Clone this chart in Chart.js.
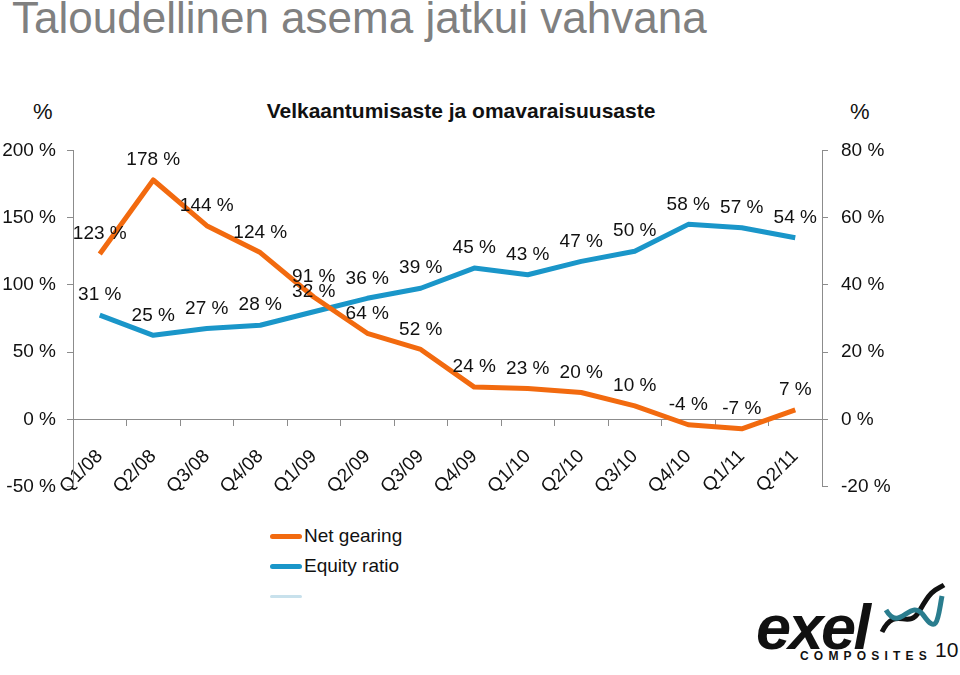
<!DOCTYPE html>
<html>
<head>
<meta charset="utf-8">
<script src="https://cdn.jsdelivr.net/npm/chart.js@4/dist/chart.umd.min.js"></script>
<style>
  body { margin: 0; width: 960px; height: 675px; background: #fff; position: relative; overflow: hidden;
         font-family: "Liberation Sans", Arial, sans-serif; color: #111; }
  .abs { position: absolute; white-space: nowrap; }
  #title { left: 12px; top: -7px; font-size: 44px; color: #808080; }
  #subtitle { left: 0; width: 922px; text-align: center; top: 99px; font-size: 21px; font-weight: bold; }
  .pct { top: 99px; font-size: 22px; }
  #chart { position: absolute; left: 0; top: 126px; }
  .leg { left: 270px; font-size: 19px; }
  .leg i { display: inline-block; width: 32px; height: 5px; border-radius: 3px; vertical-align: middle; margin-right: 2px; }
  #logo { left: 756px; top: 591px; font-size: 63px; font-weight: bold; font-style: italic; letter-spacing: -2.5px; color: #111; }
  #comp { left: 800px; top: 649px; font-size: 12px; letter-spacing: 5.2px; font-weight: bold; }
  #page { left: 935px; top: 638px; font-size: 21px; }
</style>
</head>
<body>
<div id="title" class="abs">Taloudellinen asema jatkui vahvana</div>
<div class="abs pct" style="left:33px">%</div>
<div id="subtitle" class="abs">Velkaantumisaste ja omavaraisuusaste</div>
<div class="abs pct" style="left:850px">%</div>
<canvas id="chart" width="960" height="385"></canvas>
<div class="abs leg" style="top:525px"><i style="background:#f26a0f"></i>Net gearing</div>
<div class="abs leg" style="top:555px"><i style="background:#1a96c9"></i>Equity ratio</div>
<div class="abs leg" style="top:585px"><i style="background:#c8e1ec;height:3px"></i></div>
<svg class="abs" style="left:878px;top:582px" width="70" height="56" viewBox="0 0 70 56">
  <path d="M4 50 C18 22, 30 50, 42 28 S58 8, 66 3" fill="none" stroke="#111" stroke-width="5"/>
  <path d="M8 28 C22 52, 32 14, 46 34 S60 34, 64 14" fill="none" stroke="#2a7d8e" stroke-width="5"/>
</svg>
<div id="logo" class="abs">exel</div>
<div id="comp" class="abs">COMPOSITES</div>
<div id="page" class="abs">10</div>
<script>
// Quarters and series (%)
const quarters = ['Q1/08','Q2/08','Q3/08','Q4/08','Q1/09','Q2/09','Q3/09','Q4/09','Q1/10','Q2/10','Q3/10','Q4/10','Q1/11','Q2/11'];
const netGearing = [123, 178, 144, 124, 91, 64, 52, 24, 23, 20, 10, -4, -7, 7];
const equityRatio = [31, 25, 27, 28, 32, 36, 39, 45, 43, 47, 50, 58, 57, 54];

// Axis ranges
const leftTicks = [-50, 0, 50, 100, 150, 200];
const rightTicks = [-20, 0, 20, 40, 60, 80];

const FONT = '"Liberation Sans", Arial, sans-serif';
const AXIS = '#8c8c8c';

// value labels above each point
const pointLabels = {
  id: 'pointLabels',
  afterDatasetsDraw(chart) {
    const ctx = chart.ctx;
    ctx.save();
    ctx.font = '19px ' + FONT;
    ctx.fillStyle = '#111';
    ctx.textAlign = 'center';
    ctx.textBaseline = 'middle';
    chart.data.datasets.forEach((ds, i) => {
      chart.getDatasetMeta(i).data.forEach((pt, j) => {
        ctx.fillText(ds.data[j] + ' %', pt.x, pt.y - 20);
      });
    });
    ctx.restore();
  }
};

const ctx = document.getElementById('chart').getContext('2d');
const chart = new Chart(ctx, {
  type: 'line',
  data: {
    labels: quarters,
    datasets: [
      { label: 'Net gearing', data: netGearing, yAxisID: 'y', borderColor: '#f26a0f', borderWidth: 5, pointRadius: 0, tension: 0, borderJoinStyle: 'round' },
      { label: 'Equity ratio', data: equityRatio, yAxisID: 'y1', borderColor: '#1a96c9', borderWidth: 5, pointRadius: 0, tension: 0, borderJoinStyle: 'round' }
    ]
  },
  options: {
    responsive: false,
    animation: false,
    layout: { padding: 0 },
    plugins: { legend: { display: false }, tooltip: { enabled: false } },
    scales: {
      x: {
        position: { y: 0 },
        offset: true,
        grid: { offset: true, drawOnChartArea: false, drawTicks: true, tickLength: 6, color: AXIS },
        border: { display: true, color: AXIS, width: 1 },
        ticks: { font: { family: FONT, size: 19 }, color: '#111', minRotation: 45, maxRotation: 45, padding: 20, autoSkip: false }
      },
      y: {
        position: 'left',
        min: leftTicks[0], max: leftTicks[leftTicks.length - 1],
        afterBuildTicks: s => { s.ticks = leftTicks.map(v => ({ value: v })); },
        afterFit: s => { s.width = 73; },
        grid: { drawOnChartArea: false, drawTicks: true, tickLength: 6, color: AXIS },
        border: { display: true, color: AXIS, width: 1 },
        ticks: { font: { family: FONT, size: 19 }, color: '#111', padding: 11, callback: v => v + ' %' }
      },
      y1: {
        position: 'right',
        min: rightTicks[0], max: rightTicks[rightTicks.length - 1],
        afterBuildTicks: s => { s.ticks = rightTicks.map(v => ({ value: v })); },
        afterFit: s => { s.width = 138; },
        grid: { drawOnChartArea: false, drawTicks: true, tickLength: 6, color: AXIS },
        border: { display: true, color: AXIS, width: 1 },
        ticks: { font: { family: FONT, size: 19 }, color: '#111', padding: 13, callback: v => v + ' %' }
      }
    }
  },
  plugins: [pointLabels]
});
</script>
</body>
</html>
